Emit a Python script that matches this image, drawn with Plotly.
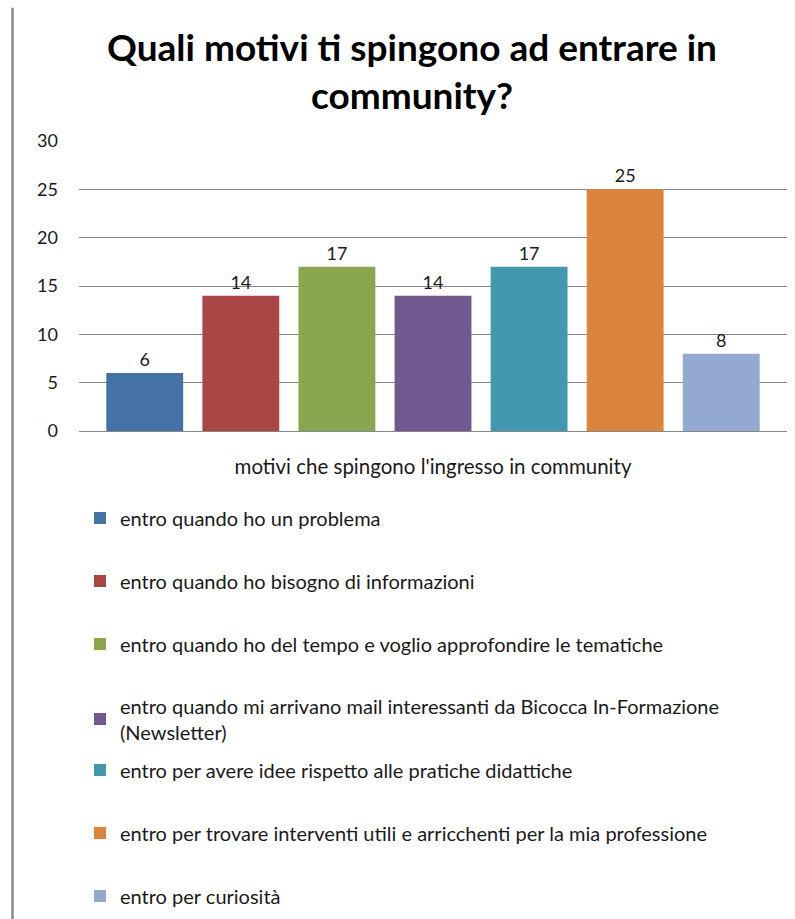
import plotly.graph_objects as go

category = ["motivi che spingono l'ingresso in community"]
series_names = [
    "entro quando ho un problema",
    "entro quando ho bisogno di informazioni",
    "entro quando ho del tempo e voglio approfondire le tematiche",
    "entro quando mi arrivano mail interessanti da Bicocca In-Formazione<br>(Newsletter)",
    "entro per avere idee rispetto alle pratiche didattiche",
    "entro per trovare interventi utili e arricchenti per la mia professione",
    "entro per curiosità",
]
values = [6, 14, 17, 14, 17, 25, 8]
colors = ["#4572A7", "#AA4643", "#89A54E", "#71588F", "#4198AF", "#DB843D", "#93A9CF"]
y_ticks = [0, 5, 10, 15, 20, 25, 30]

W, H = 795, 919
FONT = "Lato"

# legend entry vertical centres (px from top)
legend_centres = [518, 581, 644, 719, 770, 833, 896]

fig = go.Figure()
legend_layouts = {}
for i, (name, v, c) in enumerate(zip(series_names, values, colors)):
    lname = "legend" if i == 0 else f"legend{i+1}"
    fig.add_trace(go.Bar(
        x=category, y=[v], name=name, marker_color=c, marker_line_width=0,
        text=[v], textposition="outside", cliponaxis=False,
        textfont=dict(family=FONT, size=18, color="#1a1a1a"),
        legend=lname,
    ))
    legend_layouts[lname] = dict(
        xref="container", yref="container",
        x=80 / W, y=1 - legend_centres[i] / H,
        xanchor="left", yanchor="middle",
        bgcolor="rgba(0,0,0,0)", borderwidth=0,
        font=dict(family=FONT, size=20, color="#1a1a1a"),
    )

fig.update_layout(
    width=W, height=H,
    margin=dict(l=79, r=8, t=141, b=488, autoexpand=False),
    paper_bgcolor="white", plot_bgcolor="white",
    barmode="group", bargap=0.05, bargroupgap=0.2,
    showlegend=True,
    title=dict(
        text="Quali motivi ti spingono ad entrare in<br>community?",
        x=412 / W, xanchor="center", xref="container",
        y=1 - 61 / H, yanchor="top", yref="container",
        font=dict(family=FONT, size=37, color="#000000", weight="bold"),
    ),
    xaxis=dict(
        showgrid=False, showline=False, zeroline=False, ticks="",
        tickfont=dict(family=FONT, size=20.5, color="#1a1a1a"),
        ticklabelstandoff=21,
    ),
    yaxis=dict(
        range=[0, 30], tickvals=y_ticks, showgrid=True, gridcolor="#868686",
        gridwidth=1, zeroline=True, zerolinecolor="#868686", zerolinewidth=1,
        showline=False, ticks="", ticklabelstandoff=20,
        tickfont=dict(family=FONT, size=18, color="#1a1a1a"),
    ),
    shapes=[dict(
        type="line", xref="paper", yref="paper",
        x0=(12.5 - 79) / 708, x1=(12.5 - 79) / 708,
        y0=(431.3 - 8) / 290, y1=(431.3 - 925) / 290,
        line=dict(color="#8a8a8a", width=2.5),
    )],
    **legend_layouts,
)

fig.write_html("out.html")
